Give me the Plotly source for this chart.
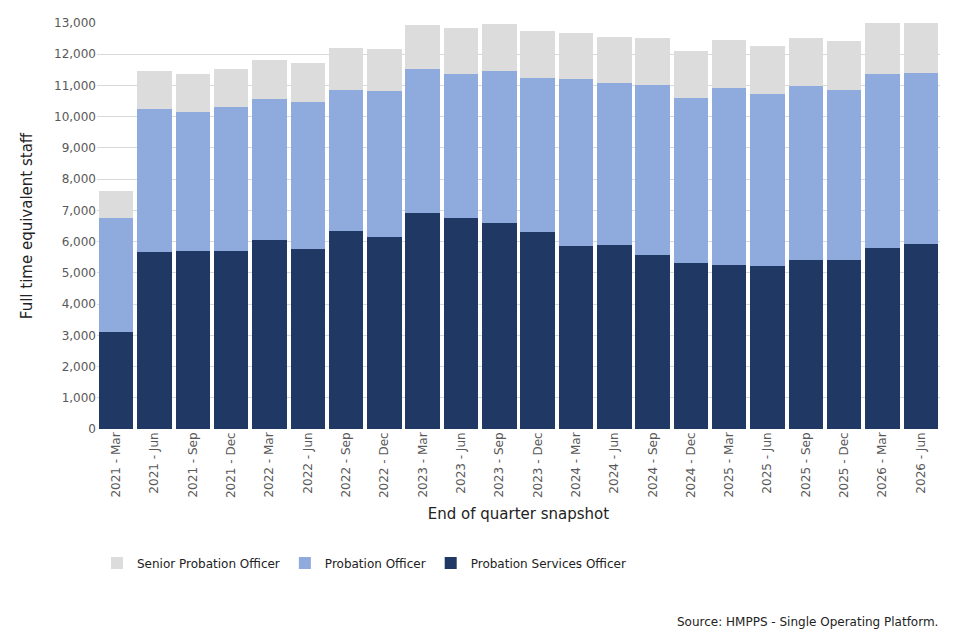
import plotly.graph_objects as go

quarters = ["2021 - Mar", "2021 - Jun", "2021 - Sep", "2021 - Dec",
            "2022 - Mar", "2022 - Jun", "2022 - Sep", "2022 - Dec",
            "2023 - Mar", "2023 - Jun", "2023 - Sep", "2023 - Dec",
            "2024 - Mar", "2024 - Jun", "2024 - Sep", "2024 - Dec",
            "2025 - Mar", "2025 - Jun", "2025 - Sep", "2025 - Dec",
            "2026 - Mar", "2026 - Jun"]

pso = [3110, 5670, 5700, 5700, 6050, 5760, 6340, 6150, 6920, 6760, 6600,
       6310, 5860, 5890, 5570, 5320, 5250, 5220, 5410, 5410, 5800, 5920]
po = [3650, 4580, 4450, 4610, 4520, 4710, 4520, 4680, 4610, 4610, 4870,
      4930, 5350, 5190, 5440, 5280, 5670, 5510, 5570, 5440, 5570, 5480]
spo = [860, 1210, 1220, 1220, 1250, 1250, 1340, 1340, 1410, 1470, 1510,
       1500, 1470, 1470, 1510, 1500, 1540, 1540, 1540, 1570, 1650, 1620]

y_ticks = list(range(0, 13001, 1000))

font = "DejaVu Sans"
fig = go.Figure()
fig.add_trace(go.Bar(x=quarters, y=pso, name="Probation Services Officer",
                     marker=dict(color="#203864", line=dict(width=0))))
fig.add_trace(go.Bar(x=quarters, y=po, name="Probation Officer",
                     marker=dict(color="#8FAADC", line=dict(width=0))))
fig.add_trace(go.Bar(x=quarters, y=spo, name="Senior Probation Officer",
                     marker=dict(color="#DCDCDC", line=dict(width=0))))

fig.update_layout(
    width=960, height=640,
    barmode="stack", bargap=0.1,
    paper_bgcolor="white", plot_bgcolor="white",
    margin=dict(l=97, r=20, t=23, b=211),
    font=dict(family=font, color="#404040"),
    xaxis=dict(tickangle=-90, tickfont=dict(size=12, color="#595959"),
               title=dict(text="End of quarter snapshot",
                          font=dict(size=15, color="#222222"), standoff=11),
               showline=False, ticks="", range=[-0.5, 21.5]),
    yaxis=dict(range=[0, 13000], tickvals=y_ticks, tickformat=",d",
               tickfont=dict(size=12, color="#595959"),
               gridcolor="#D9D9D9", gridwidth=1, zeroline=False,
               title=dict(text="Full time equivalent staff",
                          font=dict(size=15, color="#222222"), standoff=17),
               ticks="", showline=False),
    legend=dict(orientation="h", x=0.0, xanchor="left", y=-0.33, yanchor="middle",
                traceorder="reversed", font=dict(size=12, color="#222222")),
    annotations=[dict(text="Source: HMPPS - Single Operating Platform.",
                      xref="paper", yref="paper", x=1.0, y=-0.475,
                      xanchor="right", yanchor="middle", showarrow=False,
                      font=dict(size=12, color="#222222"))],
)

fig.write_html("out.html", config={"displayModeBar": False},
               post_script="document.body.style.margin='0';document.body.style.padding='0';")
